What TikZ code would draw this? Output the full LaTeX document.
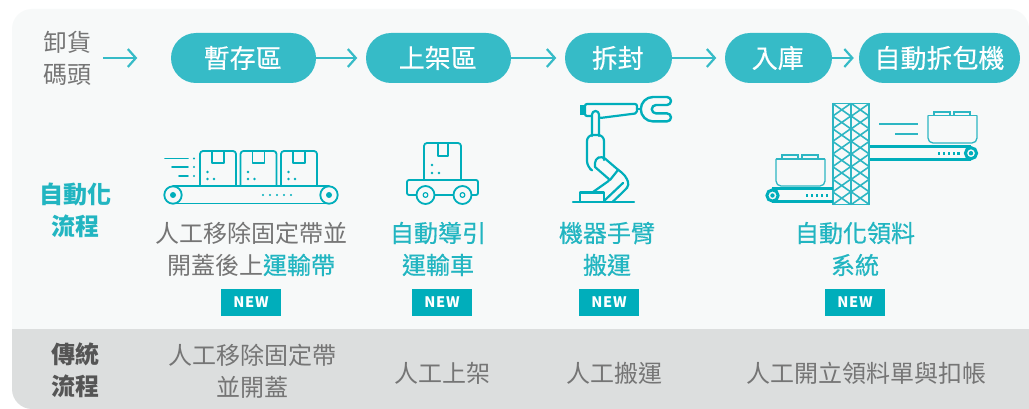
\documentclass[tikz,border=0pt]{standalone}
\usepackage{fontspec}
\setmainfont{Noto Sans CJK TC}
\newfontfamily\medf[FakeBold=0.5]{Noto Sans CJK TC}
\newfontfamily\pillf[FakeBold=0.35]{Noto Sans CJK TC}
\newfontfamily\tagf[LetterSpace=5]{Noto Sans CJK TC}
\usetikzlibrary{shapes.misc,arrows.meta}
\definecolor{panel}{HTML}{F7F9F9}
\definecolor{band}{HTML}{DCDEDE}
\definecolor{pillc}{HTML}{36BBC7}
\definecolor{tealc}{HTML}{00AEBB}
\definecolor{latc}{HTML}{2DB6C3}
\definecolor{labelt}{HTML}{22B5C1}
\definecolor{greyt}{HTML}{757575}
\definecolor{darkt}{HTML}{555555}
\tikzset{
  pill/.style={rounded rectangle,fill=pillc,text=white,minimum height=50pt,inner xsep=0pt,inner ysep=0pt,font=\pillf\fontsize{26}{30}\selectfont,anchor=center},
  flowarrow/.style={draw=pillc,line width=2.2pt,-{Straight Barb[length=8pt,width=18pt,line width=2.2pt]}},
  plain/.style={text=greyt,align=center,font=\fontsize{24}{32}\selectfont,inner sep=0pt},
  hilite/.style={text=labelt,align=center,font=\medf\fontsize{24}{32}\selectfont,inner sep=0pt},
  rowhead/.style={align=center,font=\fontsize{24}{32}\selectfont\bfseries,inner sep=0pt},
  newtag/.style={fill=tealc,text=white,minimum width=60pt,minimum height=27pt,inner sep=0pt,font=\tagf\fontsize{14.5}{16}\selectfont\bfseries},
  icon/.style={draw=tealc,line width=1.8pt,line join=round,line cap=round},
  iconthick/.style={draw=tealc,line width=3pt},
  tealdot/.style={fill=tealc}
}
\begin{document}
\begin{tikzpicture}[x=1pt,y=-1pt]
\useasboundingbox (0,0) rectangle (1029,409);
\fill[white] (0,0) rectangle (1029,409);
% panel
\fill[panel] (12,329) -- (12,29) arc[start angle=180,end angle=90,radius=20pt] -- (1009,9) arc[start angle=90,end angle=0,radius=20pt] -- (1029,329) -- cycle;
\fill[band] (12,329) -- (1029,329) -- (1029,409) -- (32,409) arc[start angle=270,end angle=180,radius=20pt] -- cycle;
% top row
\node[plain] (dock) at (67,58) {卸貨\\碼頭};
\coordinate (dockout) at (103,58);
\node[pill,minimum width=145pt] (p1) at (243.5,58) {\hspace{-1.5pt}暫存區};
\node[pill,minimum width=145pt] (p2) at (438.5,58) {\hspace{-1.5pt}上架區};
\node[pill,minimum width=107pt] (p3) at (618.5,58) {\hspace{-1.5pt}拆封};
\node[pill,minimum width=107pt] (p4) at (778.5,58) {\hspace{-1.5pt}入庫};
\node[pill,minimum width=161pt] (p5) at (939.5,58) {自動拆包機};
\draw[flowarrow,shorten >=33.5pt] (dockout) -- (p1.west);
\draw[flowarrow,shorten >=8.5pt] (p1.east) -- (p2.west);
\draw[flowarrow,shorten >=8.5pt] (p2.east) -- (p3.west);
\draw[flowarrow,shorten >=8.5pt] (p3.east) -- (p4.west);
\draw[flowarrow,shorten >=5pt] (p4.east) -- (p5.west);
% labels
\node[rowhead,text=labelt] (autohead) at (75,210) {自動化\\流程};
\node[plain] (l1) at (251,249) {人工移除固定帶並\\開蓋後上\textcolor{labelt}{\medf 運輸帶}};
\node[hilite] (l2) at (438,249) {自動導引\\運輸車};
\node[hilite] (l3) at (607,249) {機器手臂\\搬運};
\node[hilite] (l4) at (855,249) {自動化領料\\系統};
\node[newtag] (n1) at (251,302.5) {NEW};
\node[newtag] (n2) at (442,302.5) {NEW};
\node[newtag] (n3) at (609,302.5) {NEW};
\node[newtag] (n4) at (855,302.5) {NEW};
\node[rowhead,text=darkt] (tradhead) at (75,370) {傳統\\流程};
\node[plain] (t1) at (252,371.5) {人工移除固定帶\\並開蓋};
\node[plain] (t2) at (442,373) {人工上架};
\node[plain] (t3) at (614,373) {人工搬運};
\node[plain] (t4) at (866,373) {人工開立領料單與扣帳};
% conveyor icon
\foreach \dx in {0,40.5,81}{
  \begin{scope}[xshift=\dx pt]
  \draw[icon,rounded corners=3pt] (200,186) -- (200,151) -- (236,151) -- (236,186);
  \draw[icon] (212,151) -- (212,163) -- (224,163) -- (224,151);
  \fill[tealdot] (207.5,172) circle[radius=1.3pt] (207.5,179) circle[radius=1.3pt] (214,179) circle[radius=1.3pt];
  \end{scope}
}
\draw[icon] (173,186) -- (329,186) (173,203.5) -- (329,203.5);
\draw[icon,fill=panel] (173,195) circle[radius=8.7pt] (329,195) circle[radius=8.7pt];
\fill[tealdot] (173,195) circle[radius=3pt] (329,195) circle[radius=3pt];
\foreach \xx in {263,270,277,284,291} \fill[tealdot] (\xx,195) circle[radius=1.2pt];
\draw[icon] (165,158.5) -- (188,158.5) (172,167) -- (188,167) (179,176) -- (188,176);
\foreach \yy in {158.5,167,176} \fill[tealdot] (194,\yy) circle[radius=1.2pt];
% cart icon
\draw[icon,rounded corners=3pt] (424,180) -- (424,143) -- (461,143) -- (461,180);
\draw[icon] (438,143) -- (438,156) -- (448,156) -- (448,143);
\fill[tealdot] (432,165) circle[radius=1.3pt] (432,173) circle[radius=1.3pt] (439,173) circle[radius=1.3pt];
\draw[icon,rounded corners=2pt] (417,195) -- (407,195) -- (407,180) -- (478,180) -- (478,195) -- (471,195);
\draw[icon] (425,195) -- (463,195);
\draw[icon,fill=panel] (425.5,195) circle[radius=9pt] (462.5,195) circle[radius=9pt];
\draw[icon,fill=panel,line width=1.2pt] (425.5,195) circle[radius=2.4pt] (462.5,195) circle[radius=2.4pt];
% robot icon
\draw[icon,line width=2.2pt,rounded corners=2pt] (585,104) -- (637,104) -- (637,113.3) -- (600,118) -- (592,116) -- (585,116) -- cycle;
\fill[tealdot] (580,105.5) rectangle (585,115.5);
\draw[icon,line width=2.2pt,fill=panel,rounded corners=3.5pt] (592,136) -- (592,111) -- (599,111) -- (599,136);
\draw[icon,line width=2.2pt] (637,109) -- (641,109);
\draw[icon,line width=2.4pt] (667,97) arc[start angle=90,end angle=-90,radius=4pt] -- (656,105) arc[start angle=90,end angle=270,radius=4.2pt] -- (667,113.4) arc[start angle=90,end angle=-90,radius=4pt] -- (653,121.4) arc[start angle=270,end angle=90,radius=12.2pt] -- cycle;
\draw[icon,line width=2.2pt,rounded corners=6pt] (590,169) -- (587,167) -- (587,135) -- (604,135) -- (604,160);
\draw[icon,line width=2.2pt,rounded corners=4pt] (595,167) -- (595,159) -- (602,156) -- (618.3,170) -- (625,175) -- (629.5,185) -- (625,190) -- (613,201.5);
\draw[icon,line width=2.2pt,rounded corners=2pt] (595,167) -- (610,180) -- (593,192);
\draw[icon,line width=2.2pt] (610,180) -- (618,170);
\draw[icon,line width=2.2pt] (623,183) -- (605,200);
\draw[icon,line width=2.2pt] (580,201) -- (580,192.5) -- (604,192.5) -- (604,201);
\draw[icon,line width=2.4pt] (573,202) -- (634,202);
% lattice icon
\foreach \cx in {832.7,851.3}{
  \draw[draw=latc,line width=1.9pt] (\cx,103.5) rectangle +(18,101);
  \foreach \r in {0,...,7}{
    \draw[draw=latc,line width=1.6pt] (\cx,103.5+12.625*\r) -- +(18,12.625) (\cx+18,103.5+12.625*\r) -- +(-18,12.625);
  }
}
\draw[iconthick] (870,147) -- (971,147) (870,159.5) -- (971,159.5);
\draw[iconthick,fill=panel] (971,153.2) circle[radius=5.6pt];
\fill[tealdot] (971,153.2) circle[radius=2.2pt];
\foreach \xx in {939,944,949,954,958.5} \fill[tealdot] (\xx-1.3,151.7) rectangle +(2.6,3);
\draw[draw=latc,line width=1.3pt,rounded corners=5pt] (928,115.5) -- (928,143) -- (977,143) -- (977,115.5);
\draw[draw=latc,line width=1.3pt] (928,115.5) -- (977,115.5) (934,115.5) -- (934,112) -- (950,112) -- (950,115.5) (954,115.5) -- (954,112) -- (970,112) -- (970,115.5);
\draw[draw=latc,line width=1.3pt] (879,124) -- (918,124) (895,134) -- (918,134);
\draw[iconthick] (772,189) -- (833,189) (772,201.5) -- (833,201.5);
\draw[iconthick,fill=panel] (772.5,195.5) circle[radius=5.6pt];
\fill[tealdot] (772.5,195.5) circle[radius=2.2pt];
\foreach \xx in {807,812,817,822,827} \fill[tealdot] (\xx-1.3,194) rectangle +(2.6,3);
\draw[draw=latc,line width=1.3pt,rounded corners=5pt] (776,159) -- (776,186) -- (825,186) -- (825,159);
\draw[draw=latc,line width=1.3pt] (776,159) -- (825,159) (782,159) -- (782,155) -- (798,155) -- (798,159) (802,159) -- (802,155) -- (818,155) -- (818,159);
\end{tikzpicture}
\end{document}
